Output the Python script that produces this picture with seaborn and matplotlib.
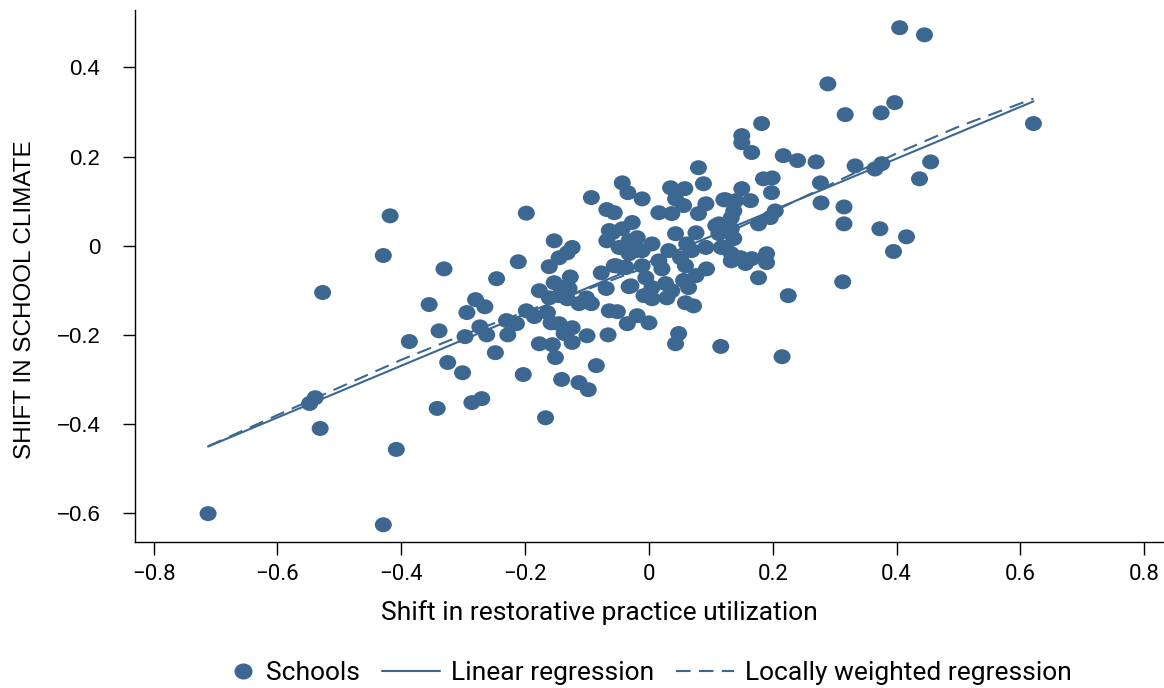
import matplotlib
matplotlib.use("Agg")
import matplotlib.pyplot as plt
from matplotlib.lines import Line2D
from matplotlib.legend_handler import HandlerLine2D
from matplotlib.path import Path
from matplotlib.transforms import Affine2D
import seaborn as sns
import pandas as pd

# school-level shifts
shift_rp = [
    -0.712, -0.429, -0.408, -0.531, -0.548, -0.539, -0.527, -0.429, -0.418, -0.387,
    -0.342, -0.355, -0.339, -0.331, -0.325, -0.301, -0.286, -0.270, -0.297, -0.294,
    -0.280, -0.273, -0.265, -0.262, -0.248, -0.246, -0.198, -0.211, -0.153, -0.124,
    -0.132, -0.145, -0.161, -0.093, -0.068, -0.056, -0.043, -0.034, -0.059, -0.068,
    -0.077, -0.056, -0.043, -0.127, -0.177, -0.153, -0.141, -0.129, -0.161, -0.145,
    -0.132, -0.113, -0.093, -0.101, -0.069, -0.064, -0.051, -0.035, -0.032, -0.198,
    -0.185, -0.230, -0.214, -0.228, -0.164, -0.158, -0.145, -0.124, -0.137, -0.177,
    -0.156, -0.124, -0.151, -0.100, -0.066, -0.203, -0.141, -0.085, -0.113, -0.098,
    -0.167, -0.011, 0.080, 0.035, 0.058, 0.088, 0.043, 0.056, 0.016, 0.037,
    0.092, 0.080, 0.121, -0.064, -0.043, -0.027, -0.032, -0.019, 0.043, 0.076,
    0.108, 0.005, -0.011, -0.021, -0.032, -0.048, 0.032, 0.061, 0.069, 0.092,
    0.117, -0.053, -0.037, -0.011, 0.016, 0.021, 0.051, 0.059, 0.093, 0.076,
    -0.029, -0.005, 0.005, -0.008, 0.005, 0.027, 0.037, 0.029, 0.056, 0.064,
    0.059, 0.072, -0.019, 0.000, 0.048, 0.043, 0.116, 0.182, 0.150, 0.150,
    0.166, 0.217, 0.240, 0.185, 0.199, 0.198, 0.150, 0.124, 0.140, 0.164,
    0.137, 0.133, 0.204, 0.196, 0.177, 0.113, 0.113, 0.133, 0.137, 0.124,
    0.133, 0.133, 0.148, 0.156, 0.166, 0.190, 0.190, 0.177, 0.225, 0.405,
    0.445, 0.289, 0.317, 0.397, 0.375, 0.621, 0.270, 0.333, 0.365, 0.376,
    0.455, 0.437, 0.277, 0.278, 0.315, 0.315, 0.373, 0.416, 0.395, 0.313,
    0.215,
]
shift_climate = [
    -0.601, -0.626, -0.457, -0.410, -0.354, -0.341, -0.105, -0.022, 0.067, -0.215,
    -0.365, -0.132, -0.191, -0.052, -0.262, -0.285, -0.352, -0.343, -0.204, -0.150,
    -0.121, -0.182, -0.137, -0.200, -0.240, -0.074, 0.073, -0.036, 0.011, -0.004,
    -0.016, -0.027, -0.047, 0.108, 0.081, 0.074, 0.141, 0.119, 0.029, 0.011,
    -0.061, -0.045, -0.049, -0.070, -0.101, -0.083, -0.094, -0.096, -0.117, -0.112,
    -0.119, -0.130, -0.130, -0.117, -0.096, -0.146, -0.148, -0.175, -0.092, -0.146,
    -0.159, -0.168, -0.175, -0.200, -0.150, -0.173, -0.175, -0.184, -0.197, -0.220,
    -0.222, -0.217, -0.251, -0.202, -0.200, -0.289, -0.300, -0.269, -0.307, -0.323,
    -0.386, 0.105, 0.175, 0.130, 0.128, 0.139, 0.105, 0.090, 0.074, 0.072,
    0.094, 0.072, 0.103, 0.034, 0.038, 0.052, 0.011, 0.018, 0.027, 0.029,
    0.045, 0.004, -0.011, -0.011, -0.018, -0.004, -0.011, 0.004, -0.011, -0.004,
    -0.004, -0.045, -0.049, -0.045, -0.034, -0.052, -0.027, -0.045, -0.052, -0.067,
    -0.090, -0.072, -0.094, -0.112, -0.119, -0.085, -0.101, -0.117, -0.078, -0.094,
    -0.128, -0.135, -0.157, -0.173, -0.197, -0.220, -0.226, 0.274, 0.247, 0.231,
    0.209, 0.202, 0.191, 0.150, 0.152, 0.119, 0.128, 0.103, 0.101, 0.101,
    0.078, 0.063, 0.078, 0.063, 0.049, 0.049, 0.027, 0.038, 0.016, -0.004,
    -0.018, -0.034, -0.027, -0.040, -0.029, -0.018, -0.038, -0.072, -0.112, 0.489,
    0.473, 0.363, 0.294, 0.321, 0.298, 0.274, 0.188, 0.179, 0.172, 0.184,
    0.188, 0.150, 0.141, 0.096, 0.087, 0.049, 0.038, 0.020, -0.013, -0.081,
    -0.249,
]

# locally weighted regression curve
lowess_x = [-0.712, -0.6, -0.5, -0.4, -0.3, -0.2, -0.1, 0.0, 0.1, 0.2, 0.3, 0.4, 0.5, 0.621]
lowess_y = [-0.450, -0.380, -0.318, -0.256, -0.200, -0.148, -0.098, -0.046, 0.012,
            0.076, 0.142, 0.207, 0.267, 0.330]

df = pd.DataFrame({"rp": shift_rp, "climate": shift_climate})
curve = pd.DataFrame({"x": lowess_x, "y": lowess_y})

color = "#3b6790"
dot = Path.unit_circle().transformed(Affine2D().scale(1.0, 0.88))


class MarkerRight(HandlerLine2D):
    # put the single legend marker next to its text instead of mid-handle
    def get_xdata(self, legend, xdescent, ydescent, width, height, fontsize):
        pos = -xdescent + width - 0.45 * fontsize
        return [pos - 1, pos + 1], [pos]


sns.set_style("white")
plt.rcParams["font.family"] = ["Roboto", "DejaVu Sans"]
plt.rcParams["text.color"] = "black"
plt.rcParams["axes.labelcolor"] = "black"
plt.rcParams["xtick.color"] = "black"
plt.rcParams["ytick.color"] = "black"

fig = plt.figure(figsize=(11.64, 6.88), dpi=100)
ax = fig.add_axes([0.116, 0.212, 0.883, 0.773])

sns.scatterplot(data=df, x="rp", y="climate", ax=ax, color=color, s=150,
                marker=dot, edgecolor="none", linewidth=0, zorder=3)
sns.regplot(data=df, x="rp", y="climate", ax=ax, scatter=False, ci=None,
            color=color, line_kws={"linewidth": 1.5, "zorder": 4})
sns.lineplot(data=curve, x="x", y="y", ax=ax, color=color, linewidth=1.5,
             linestyle=(0, (7, 4)), zorder=4)

ax.set_xlim(-0.83, 0.83)
ax.set_ylim(-0.665, 0.528)
ax.set_xticks([-0.8, -0.6, -0.4, -0.2, 0, 0.2, 0.4, 0.6, 0.8])
ax.set_xticklabels(["\u22120.8", "\u22120.6", "\u22120.4", "\u22120.2", "0",
                    "0.2", "0.4", "0.6", "0.8"])
ax.set_yticks([-0.6, -0.4, -0.2, 0, 0.2, 0.4])
ax.set_yticklabels(["\u22120.6", "\u22120.4", "\u22120.2", "0", "0.2", "0.4"])
ax.tick_params(axis="both", direction="out", length=9, width=1,
               bottom=True, left=True)
ax.tick_params(axis="x", labelsize=16, pad=7)
ax.tick_params(axis="y", labelsize=16, pad=16)
for lab in ax.get_yticklabels():
    lab.set_family(["Liberation Sans", "DejaVu Sans"])

for side in ["top", "right"]:
    ax.spines[side].set_visible(False)
for side in ["left", "bottom"]:
    ax.spines[side].set_color("black")
    ax.spines[side].set_linewidth(1)

ax.set_xlabel("Shift in restorative practice utilization", fontsize=19)
ax.xaxis.set_label_coords(0.452, -0.109)
ax.set_ylabel("SHIFT IN SCHOOL CLIMATE", fontsize=17.5,
              family=["Liberation Sans", "DejaVu Sans"])
ax.yaxis.set_label_coords(-0.096, 0.455)

school_handle = Line2D([], [], marker=dot, linestyle="none", color=color, markersize=12)
handles = [
    school_handle,
    Line2D([], [], color=color, linewidth=1.5),
    Line2D([], [], color=color, linewidth=1.5, linestyle=(0, (7, 4))),
]
fig.legend(handles, ["Schools", "Linear regression", "Locally weighted regression"],
           loc="center", bbox_to_anchor=(0.545, 0.022), ncol=3, frameon=False,
           fontsize=19, handlelength=2.2, columnspacing=0.85, handletextpad=0.4,
           handler_map={school_handle: MarkerRight(numpoints=1)})

fig.savefig("out.png", dpi=100)
